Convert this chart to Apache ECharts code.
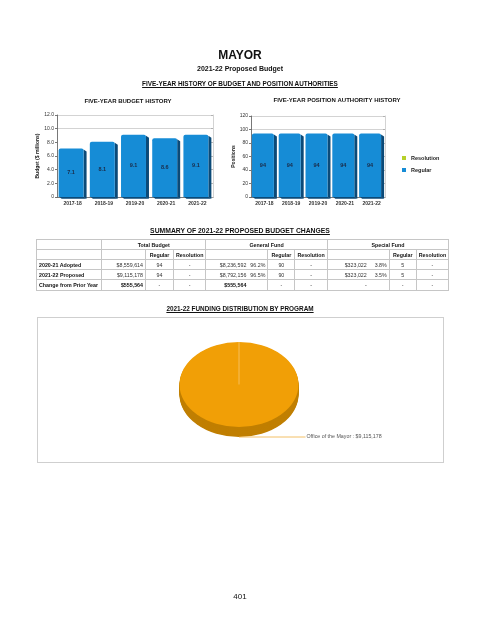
<!DOCTYPE html>
<html>
<head>
<meta charset="utf-8">
<script src="https://cdn.jsdelivr.net/npm/echarts@6/dist/echarts.min.js"></script>
<style>
html,body{margin:0;padding:0;background:#fff;width:480px;height:621px;overflow:hidden;font-family:"Liberation Sans",Arial,sans-serif}
#chart{position:absolute;left:0;top:0;width:480px;height:621px}
.h{position:absolute;left:0;width:480px;text-align:center;font-weight:bold;color:#111;white-space:nowrap}
.u{text-decoration:underline}
#tbl{position:absolute;left:36px;top:239px;border-collapse:collapse;table-layout:fixed;font-size:5.3px;color:#333}
#tbl td{border:1px solid #c6c6c6;height:9px;padding:0 2px;overflow:hidden;white-space:nowrap;box-sizing:border-box;line-height:8px}
#tbl td.b{font-weight:bold;color:#111}
#tbl td.c{text-align:center}
#tbl td.r{text-align:right}
.amt{display:inline-block;text-align:right}
.pct{float:right}
#piebox{position:absolute;left:37px;top:317px;width:405px;height:144px;border:1px solid #cfcfcf}
</style>
</head>
<body>
<div id="chart"></div>
<div class="h" style="top:48px;font-size:12px;line-height:14px">MAYOR</div>
<div class="h" style="top:64px;font-size:7px;line-height:9px">2021-22 Proposed Budget</div>
<div class="h u" style="top:80px;font-size:6.4px;line-height:8px">FIVE-YEAR HISTORY OF BUDGET AND POSITION AUTHORITIES</div>
<div class="h u" style="top:227px;font-size:6.8px;line-height:8px">SUMMARY OF 2021-22 PROPOSED BUDGET CHANGES</div>
<table id="tbl"></table>
<div class="h u" style="top:305px;font-size:6.4px;line-height:8px">2021-22 FUNDING DISTRIBUTION BY PROGRAM</div>
<div id="piebox"></div>
<div class="h" style="top:592px;font-size:8px;line-height:10px;font-weight:normal">401</div>
<script>
// ---------- data ----------
const years = ['2017-18', '2018-19', '2019-20', '2020-21', '2021-22'];
const budgetMillions = [7.1, 8.1, 9.1, 8.6, 9.1];
const positionsRegular = [94, 94, 94, 94, 94];
const positionsResolution = [0, 0, 0, 0, 0];
const budgetAxis = { min: 0, max: 12, interval: 2 };
const positionAxis = { min: 0, max: 120, interval: 20 };

const tableGroups = ['Total Budget', 'General Fund', 'Special Fund'];
const subHeads = ['Regular', 'Resolution'];
const rowLabels = ['2020-21 Adopted', '2021-22 Proposed', 'Change from Prior Year'];
const totalAmount = ['$8,559,614', '$9,115,178', '$555,564'];
const totalRegular = ['94', '94', '-'];
const totalResolution = ['-', '-', '-'];
const generalAmount = ['$8,236,592', '$8,792,156', '$555,564'];
const generalPct = ['96.2%', '96.5%', ''];
const generalRegular = ['90', '90', '-'];
const generalResolution = ['-', '-', '-'];
const specialAmount = ['$323,022', '$323,022', '-'];
const specialPct = ['3.8%', '3.5%', ''];
const specialRegular = ['5', '5', '-'];
const specialResolution = ['-', '-', '-'];

const programs = ['Office of the Mayor'];
const programBudget = [9115178];

// ---------- table ----------
(function buildTable() {
  const colW = [65, 44, 28, 30, 62, 27, 31, 62, 27, 31];
  let html = '<colgroup>' + colW.map(w => '<col style="width:' + w + 'px">').join('') + '</colgroup>';
  html += '<tr style="height:10px"><td></td>' + tableGroups.map(g => '<td colspan="3" class="b c">' + g + '</td>').join('') + '</tr>';
  html += '<tr style="height:10px"><td></td>' + tableGroups.map(() => '<td></td>' + subHeads.map(s => '<td class="b c">' + s + '</td>').join('')).join('') + '</tr>';
  for (let i = 0; i < rowLabels.length; i++) {
    const last = i === rowLabels.length - 1;
    const amtCls = last ? 'r b' : 'r';
    html += '<tr style="height:' + (last ? 11 : 10) + 'px">';
    html += '<td class="b">' + rowLabels[i] + '</td>';
    html += '<td class="' + amtCls + '">' + totalAmount[i] + '</td>';
    html += '<td class="c">' + totalRegular[i] + '</td><td class="c">' + totalResolution[i] + '</td>';
    html += '<td class="' + (last ? 'b' : '') + '"><span class="amt" style="width:38px">' + generalAmount[i] + '</span><span class="pct">' + generalPct[i] + '</span></td>';
    html += '<td class="c">' + generalRegular[i] + '</td><td class="c">' + generalResolution[i] + '</td>';
    html += '<td><span class="amt" style="width:37px">' + specialAmount[i] + '</span><span class="pct">' + specialPct[i] + '</span></td>';
    html += '<td class="c">' + specialRegular[i] + '</td><td class="c">' + specialResolution[i] + '</td>';
    html += '</tr>';
  }
  document.getElementById('tbl').innerHTML = html;
})();

// ---------- charts ----------
const FONT = '"Liberation Sans", Arial, sans-serif';
const BLUE = '#168cd6';
const BLUE_SIDE = '#0b4a78';
const GREEN = '#b7d02a';

function fmtBudget(v) { return v === 0 ? '0' : v.toFixed(1); }

function bar3d(widthRatio, labelFmt) {
  return function (params, api) {
    const cat = api.value(0), val = api.value(1);
    if (!val) return null;
    const p = api.coord([cat, val]);
    const b = api.coord([cat, 0]);
    const w = api.size([1, 0])[0] * widthRatio;
    const d = 3;
    const x0 = p[0] - w / 2 - d / 2, x1 = x0 + w;
    return {
      type: 'group',
      children: [
        { type: 'polygon', shape: { points: [[x1, p[1] + 1], [x1 + d, p[1] + d], [x1 + d, b[1] + d * 0.6], [x1, b[1]]] }, style: { fill: BLUE_SIDE } },
        { type: 'polygon', shape: { points: [[x0 + 1, b[1]], [x0 + d, b[1] + d * 0.6], [x1 + d, b[1] + d * 0.6], [x1, b[1]]] }, style: { fill: BLUE_SIDE } },
        { type: 'rect', shape: { x: x0, y: p[1], width: w, height: b[1] - p[1], r: [2, 2, 0, 0] }, style: { fill: BLUE } },
        { type: 'text', x: (x0 + x1) / 2, y: (p[1] + b[1]) / 2, style: { text: labelFmt(val), align: 'center', verticalAlign: 'middle', fill: '#1b2b48', font: 'bold 5.5px ' + FONT } }
      ]
    };
  };
}

function pie3d(cx, cy, rx, ry, depth) {
  const total = programBudget.reduce((a, b) => a + b, 0);
  const sy = ry / rx;
  return function (params, api) {
    const val = api.value(0);
    let before = 0;
    for (let i = 0; i < params.dataIndex; i++) before += programBudget[i];
    const a0 = -Math.PI / 2 + before / total * Math.PI * 2;
    const a1 = a0 + val / total * Math.PI * 2;
    const children = [];
    const dUnscaled = depth / sy;
    for (let k = Math.round(dUnscaled); k >= 1; k--) {
      children.push({ type: 'sector', shape: { cx: cx, cy: cy + k, r: rx, startAngle: a0, endAngle: a1, clockwise: true }, style: { fill: '#c07f02' } });
    }
    children.push({ type: 'sector', shape: { cx: cx, cy: cy, r: rx, startAngle: a0, endAngle: a1, clockwise: true }, style: { fill: '#f19f06' } });
    children.push({ type: 'line', shape: { x1: cx, y1: cy, x2: cx + rx * Math.cos(a0), y2: cy + rx * Math.sin(a0) }, style: { stroke: '#f7cf86', lineWidth: 0.8 } });
    const g = { type: 'group', originX: cx, originY: cy, scaleY: sy, children: children };
    const am = (a0 + a1) / 2;
    const ex = cx + rx * Math.cos(am), ey = cy + ry * Math.sin(am) + depth;
    const lx = cx + rx + 7;
    return {
      type: 'group',
      children: [
        g,
        { type: 'polyline', shape: { points: [[ex, ey], [lx, ey]] }, style: { stroke: '#f0b040', lineWidth: 0.8, fill: null } },
        { type: 'text', x: lx + 1, y: ey, style: { text: programs[params.dataIndex] + ' : $' + val.toLocaleString('en-US'), align: 'left', verticalAlign: 'middle', fill: '#555', font: '5.3px ' + FONT } }
      ]
    };
  };
}

const axisLabelStyle = { fontSize: 5, color: '#333', fontFamily: FONT };
const hidden = 'rgba(0,0,0,0)';

function yAxes(gridIndex, ax, name, fmt, gap) {
  const n = Math.round((ax.max - ax.min) / ax.interval) + 1;
  const colors = [];
  for (let i = 0; i < n; i++) colors.push(i >= n - 2 ? '#c8c8c8' : hidden);
  return [
    {
      type: 'value', gridIndex: gridIndex, min: ax.min, max: ax.max, interval: ax.interval,
      name: name, nameLocation: 'middle', nameGap: gap, nameRotate: 90,
      nameTextStyle: { fontSize: 5, fontWeight: 'bold', color: '#222', fontFamily: FONT },
      axisLine: { show: true, lineStyle: { color: '#555', width: 0.8 } },
      axisTick: { show: true, length: 2, lineStyle: { color: '#555', width: 0.8 } },
      axisLabel: Object.assign({ margin: 3, formatter: fmt }, axisLabelStyle),
      splitLine: { show: true, lineStyle: { color: colors, width: 0.8 } }
    },
    {
      type: 'value', gridIndex: gridIndex, position: 'right', min: ax.min, max: ax.max, interval: ax.interval,
      axisLine: { show: true, lineStyle: { color: '#c8c8c8', width: 0.8 } },
      axisTick: { show: true, inside: true, length: 2, lineStyle: { color: '#aaa', width: 0.8 } },
      axisLabel: { show: false }, splitLine: { show: false }
    }
  ];
}

function xAxis(gridIndex) {
  return {
    type: 'category', gridIndex: gridIndex, data: years,
    axisLine: { show: true, lineStyle: { color: '#555', width: 0.8 } },
    axisTick: { show: false },
    axisLabel: Object.assign({ margin: 4, fontWeight: 'bold' }, axisLabelStyle)
  };
}

const chart = echarts.init(document.getElementById('chart'), null, { renderer: 'canvas' });
chart.setOption({
  animation: false,
  backgroundColor: 'transparent',
  textStyle: { fontFamily: FONT },
  graphic: [
    { type: 'text', x: 128, y: 101, style: { text: 'FIVE-YEAR BUDGET HISTORY', align: 'center', verticalAlign: 'middle', fill: '#111', font: 'bold 6px ' + FONT } },
    { type: 'text', x: 337, y: 100, style: { text: 'FIVE-YEAR POSITION AUTHORITY HISTORY', align: 'center', verticalAlign: 'middle', fill: '#111', font: 'bold 6px ' + FONT } }
  ],
  grid: [
    { left: 57, top: 115, width: 156, height: 82 },
    { left: 251, top: 116, width: 134, height: 81 }
  ],
  legend: {
    data: ['Resolution', 'Regular'],
    orient: 'vertical', left: 397, top: 150, itemWidth: 4, itemHeight: 4, itemGap: 6, icon: 'rect',
    textStyle: { fontSize: 5.5, fontWeight: 'bold', color: '#222', fontFamily: FONT }
  },
  xAxis: [xAxis(0), xAxis(1)],
  yAxis: yAxes(0, budgetAxis, 'Budget ($ millions)', fmtBudget, 17).concat(yAxes(1, positionAxis, 'Positions', v => String(v), 13)),
  series: [
    {
      type: 'custom', name: 'Budget', xAxisIndex: 0, yAxisIndex: 0,
      renderItem: bar3d(0.8, fmtBudget),
      data: budgetMillions.map((v, i) => [i, v]), itemStyle: { color: BLUE }
    },
    {
      type: 'custom', name: 'Regular', xAxisIndex: 1, yAxisIndex: 2,
      renderItem: bar3d(0.82, v => String(v)),
      data: positionsRegular.map((v, i) => [i, v]), itemStyle: { color: BLUE }
    },
    {
      type: 'bar', name: 'Resolution', xAxisIndex: 1, yAxisIndex: 2, stack: 'pos',
      data: positionsResolution, itemStyle: { color: GREEN }, barWidth: 0
    },
    {
      type: 'custom', name: 'Program', coordinateSystem: 'none',
      renderItem: pie3d(239, 384.5, 59.5, 42.5, 10),
      data: programBudget.map(v => [v])
    }
  ]
});
</script>
</body>
</html>
